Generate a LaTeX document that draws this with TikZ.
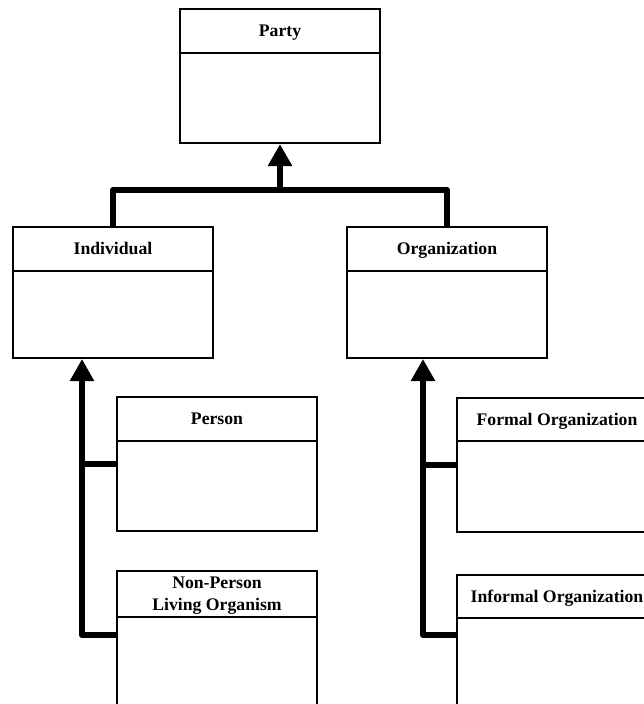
\documentclass[tikz,border=0pt]{standalone}
\usepackage{fontspec}
\setmainfont{Liberation Serif}
\usetikzlibrary{arrows.meta,positioning}

\begin{document}
\begin{tikzpicture}[x=1pt, y=-1pt,
	classbox/.style={draw, line width=2pt, minimum width=200pt, minimum height=134pt, inner sep=0pt},
	headbox/.style={draw, line width=2pt, minimum width=200pt, minimum height=44pt, inner sep=0pt, text height=12.5pt, text depth=1pt, align=center, font=\fontsize{17.7}{22}\selectfont\bfseries},
	gen/.style={line width=6pt, line join=round},
	genarrow/.style={gen, -{Triangle[width=23pt, length=22pt]}}]
\useasboundingbox (0,0) rectangle (644,704);
\clip (0,0) rectangle (644,704);
\node[classbox](party) at (280,76) {};
\node[headbox, anchor=north](partyhead) at (party.north) {Party};
\node[classbox, minimum height=131pt](ind) at (113,292.5) {};
\node[headbox, anchor=north](indhead) at (ind.north) {Individual};
\node[classbox, minimum height=131pt](org) at (447,292.5) {};
\node[headbox, anchor=north](orghead) at (org.north) {Organization};
\node[classbox](person) at (217,464) {};
\node[headbox, anchor=north](personhead) at (person.north) {Person};
\node[classbox](nonperson) at (217,638) {};
\node[headbox, anchor=north, minimum height=46pt, text height=34.5pt](nonpersonhead) at (nonperson.north) {Non-Person\\Living Organism};
\node[classbox](formal) at (557,465) {};
\node[headbox, anchor=north, minimum height=43pt](formalhead) at (formal.north) {Formal Organization};
\node[classbox](informal) at (557,642) {};
\node[headbox, anchor=north, minimum height=43pt](informalhead) at (informal.north) {Informal Organization};
\coordinate(partyfork) at (280,190);
\coordinate(indfork) at (82,635);
\coordinate(orgfork) at (423,635);
\draw[gen] (indhead.north) |- (partyfork) -| (orghead.north);
\draw[genarrow] (partyfork) -- (party.south);
\draw[genarrow] (nonperson.west |- indfork) -- (indfork) -- (indfork |- ind.south);
\draw[gen] (person.west) -- (person.west -| indfork);
\draw[genarrow] (informal.west |- orgfork) -- (orgfork) -- (orgfork |- org.south);
\draw[gen] (formal.west) -- (formal.west -| orgfork);
\end{tikzpicture}
\end{document}
